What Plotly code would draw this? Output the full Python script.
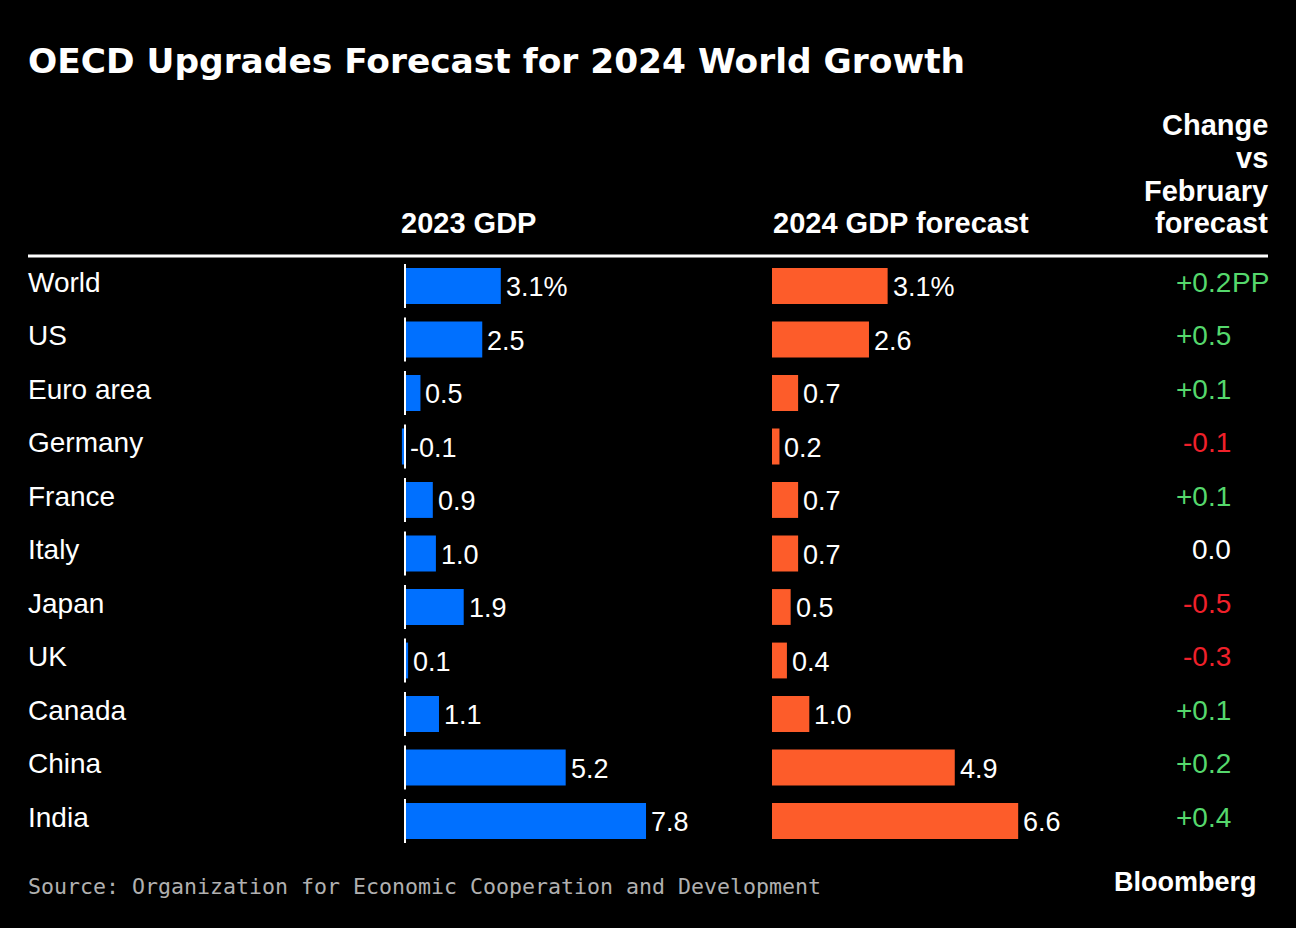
import plotly.graph_objects as go

W, H = 1296, 928

title = "OECD Upgrades Forecast for 2024 World Growth"
countries = ["World", "US", "Euro area", "Germany", "France", "Italy", "Japan", "UK", "Canada", "China", "India"]
gdp_2023 = [3.1, 2.5, 0.5, -0.1, 0.9, 1.0, 1.9, 0.1, 1.1, 5.2, 7.8]
gdp_2024 = [3.1, 2.6, 0.7, 0.2, 0.7, 0.7, 0.5, 0.4, 1.0, 4.9, 6.6]
change = [0.2, 0.5, 0.1, -0.1, 0.1, 0.0, -0.5, -0.3, 0.1, 0.2, 0.4]
col_headers = ["2023 GDP", "2024 GDP forecast"]
change_header = ["Change", "vs", "February", "forecast"]
source = "Source: Organization for Economic Cooperation and Development"

BLUE = "#0070ff"
ORANGE = "#fd5c2a"
GREEN = "#55d86c"
RED = "#f0202a"
BODY = "Liberation Sans, Arial, sans-serif"

def px(x):
    return x / W

def py(y):
    return 1 - y / H

fig = go.Figure()
idx = list(range(len(countries)))

fig.add_trace(go.Bar(x=gdp_2023, y=idx, orientation="h", marker=dict(color=BLUE, line_width=0),
                     width=0.67, xaxis="x", yaxis="y", hoverinfo="skip"))
fig.add_trace(go.Bar(x=gdp_2024, y=idx, orientation="h", marker=dict(color=ORANGE, line_width=0),
                     width=0.67, xaxis="x2", yaxis="y", hoverinfo="skip"))

annotations = []
shapes = []

def fmt(v, i):
    s = f"{v:.1f}"
    return s + "%" if i == 0 else s

for i, c in enumerate(countries):
    annotations.append(dict(x=px(26), xref="paper", y=i, yref="y", text=c, showarrow=False,
                            xanchor="left", yanchor="middle", yshift=4,
                            font=dict(family=BODY, size=28, color="white")))
    annotations.append(dict(x=max(gdp_2023[i], 0), xref="x", y=i, yref="y", text=fmt(gdp_2023[i], i),
                            showarrow=False, xanchor="left", yanchor="middle", xshift=3, yshift=-1,
                            font=dict(family=BODY, size=27, color="white")))
    annotations.append(dict(x=max(gdp_2024[i], 0), xref="x2", y=i, yref="y", text=fmt(gdp_2024[i], i),
                            showarrow=False, xanchor="left", yanchor="middle", xshift=3, yshift=-1,
                            font=dict(family=BODY, size=27, color="white")))
    v = change[i]
    if v > 0:
        txt, col = f"+{v:.1f}", GREEN
    elif v < 0:
        txt, col = f"{v:.1f}", RED
    else:
        txt, col = f"{v:.1f}", "white"
    annotations.append(dict(x=px(1233), xref="paper", y=i, yref="y", text=txt, showarrow=False,
                            xanchor="right", yanchor="middle", yshift=4,
                            font=dict(family=BODY, size=28, color=col)))
    if i == 0:
        annotations.append(dict(x=px(1230), xref="paper", y=i, yref="y", text="PP", showarrow=False,
                                xanchor="left", yanchor="middle", yshift=4,
                                font=dict(family=BODY, size=28, color=col)))
    shapes.append(dict(type="line", xref="x", yref="y", x0=0, x1=0, y0=i - 0.41, y1=i + 0.41,
                       line=dict(color="white", width=2)))

# headers
for hx, htxt in zip([399, 771], col_headers):
    annotations.append(dict(x=px(hx), xref="paper", y=py(223), yref="paper", text="<b>" + htxt + "</b>",
                            showarrow=False, xanchor="left", yanchor="middle",
                            font=dict(family=BODY, size=29, color="white")))
for hy, htxt in zip([125, 158, 191, 223], change_header):
    annotations.append(dict(x=px(1270), xref="paper", y=py(hy), yref="paper", text="<b>" + htxt + "</b>",
                            showarrow=False, xanchor="right", yanchor="middle",
                            font=dict(family=BODY, size=29, color="white")))
# title
annotations.append(dict(x=px(26), xref="paper", y=py(61), yref="paper", text="<b>" + title + "</b>",
                        showarrow=False, xanchor="left", yanchor="middle",
                        font=dict(family="DejaVu Sans", size=34.4, color="white")))
# source
annotations.append(dict(x=px(26), xref="paper", y=py(886), yref="paper", text=source,
                        showarrow=False, xanchor="left", yanchor="middle",
                        font=dict(family="DejaVu Sans Mono", size=21.6, color="#b0b0b0")))
annotations.append(dict(x=px(1259), xref="paper", y=py(882), yref="paper", text="<b>Bloomberg</b>",
                        showarrow=False, xanchor="right", yanchor="middle",
                        font=dict(family=BODY, size=27, color="white")))

shapes.append(dict(type="line", xref="paper", yref="paper", x0=px(28), x1=px(1268), y0=py(256), y1=py(256),
                   line=dict(color="white", width=3)))

# axes geometry
b_zero, b_scale = 405, 30.9
o_zero, o_scale = 772, 37.3
bx0, bx1 = 380, 720
ox0, ox1 = 760, 1100
row_top, row_bot = 286, 821
pitch = (row_bot - row_top) / (len(countries) - 1)

fig.update_layout(
    width=W, height=H,
    margin=dict(l=0, r=0, t=0, b=0),
    paper_bgcolor="black", plot_bgcolor="black",
    showlegend=False, barmode="overlay",
    xaxis=dict(domain=[px(bx0), px(bx1)], range=[(bx0 - b_zero) / b_scale, (bx1 - b_zero) / b_scale],
               visible=False, fixedrange=True),
    xaxis2=dict(domain=[px(ox0), px(ox1)], range=[(ox0 - o_zero) / o_scale, (ox1 - o_zero) / o_scale],
                visible=False, fixedrange=True),
    yaxis=dict(domain=[py(row_bot + pitch / 2), py(row_top - pitch / 2)],
               range=[len(countries) - 0.5, -0.5], visible=False, fixedrange=True),
    annotations=annotations,
    shapes=shapes,
)

fig.write_html("out.html", config={"displayModeBar": False},
               post_script="document.body.style.margin='0px';document.body.style.padding='0px';"
                           "document.body.style.background='black';document.body.style.overflow='hidden';")
